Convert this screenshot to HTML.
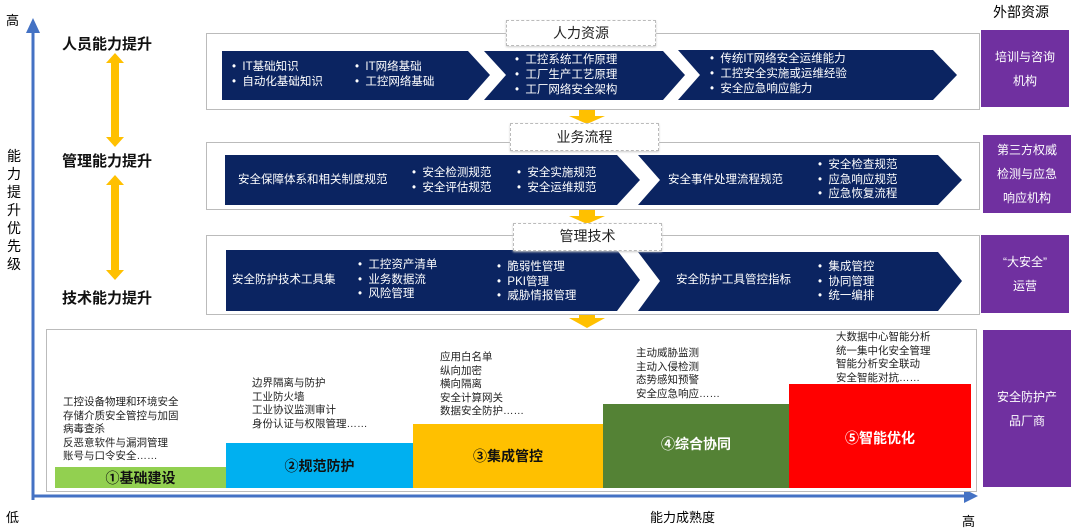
<!DOCTYPE html>
<html><head><meta charset="utf-8"><style>
body{margin:0;width:1080px;height:529px;background:#fff;position:relative;overflow:hidden;font-family:"Liberation Sans","Noto Sans CJK SC",sans-serif;}
.a{position:absolute;white-space:nowrap}
.lbl{font-size:15px;font-weight:bold;color:#111}
.panel{position:absolute;border:1.5px solid #bbb;background:#fff}
.tab{position:absolute;border:1px dashed #bbb;background:#fff;font-size:14px;color:#222;text-align:center;box-shadow:0 1px 2px #ccc}
.w{color:#fff;font-size:11.5px;line-height:14.5px}
.pur{position:absolute;background:#7030a0;color:#fff;font-size:12px;text-align:center;display:flex;align-items:center;justify-content:center;line-height:24px}
.bl{color:#222;font-size:10.5px;line-height:13.5px}
.step{position:absolute;display:flex;justify-content:center;font-size:14px;font-weight:bold}
</style></head><body>
<svg width="1080" height="529" style="position:absolute;left:0;top:0">
<line x1="33" y1="30" x2="33" y2="500" stroke="#4472c4" stroke-width="3"/>
<polygon points="33,18 26,33 40,33" fill="#4472c4"/>
<line x1="33" y1="496" x2="966" y2="496" stroke="#4472c4" stroke-width="3"/>
<polygon points="978,496 964,489 964,503" fill="#4472c4"/>
<g fill="#ffc000">
<polygon points="115,53 106,63 111,63 111,137 106,137 115,147 124,137 119,137 119,63 124,63"/>
<polygon points="115,175 106,185 111,185 111,270 106,270 115,280 124,270 119,270 119,185 124,185"/>
<polygon points="579,109 595,109 595,116 605,116 587,124 569,116 579,116"/>
<polygon points="579,209 595,209 595,216 605,216 587,224 569,216 579,216"/>
<polygon points="579,311 595,311 595,318 605,318 587,328 569,318 579,318"/>
</g>
</svg>
<div class="a" style="left:6px;top:10px;font-size:13px">高</div>
<div class="a" style="left:6px;top:507px;font-size:13px">低</div>
<div class="a" style="left:962px;top:511px;font-size:13px">高</div>
<div class="a" style="left:650px;top:507px;font-size:13px">能力成熟度</div>
<div class="a" style="left:7px;top:147px;font-size:14px;line-height:18px;width:16px;white-space:normal">能力提升优先级</div>
<div class="a lbl" style="left:62px;top:33px">人员能力提升</div>
<div class="a lbl" style="left:62px;top:150px">管理能力提升</div>
<div class="a lbl" style="left:62px;top:287px">技术能力提升</div>

<div class="panel" style="left:206px;top:33px;width:772px;height:75px"></div>
<div class="panel" style="left:206px;top:142px;width:772px;height:66px"></div>
<div class="panel" style="left:206px;top:235px;width:772px;height:78px"></div>

<svg width="1080" height="529" style="position:absolute;left:0;top:0">
<g fill="#0b2461">
<polygon points="222,51 468,51 490,75 468,100 222,100"/>
<polygon points="484,51 663,51 685,75 663,100 484,100 506,75"/>
<polygon points="678,50 933,50 957,75 933,100 678,100 700,75"/>
<polygon points="225,155 617,155 640,180 617,205 225,205"/>
<polygon points="638,155 938,155 962,180 938,205 638,205 660,180"/>
<polygon points="226,250 617,250 640,280 617,311 226,311"/>
<polygon points="638,252 938,252 962,281 938,311 638,311 660,281"/>
</g>
</svg>
<div class="tab" style="left:506px;top:20px;width:148px;height:24px;line-height:24px">人力资源</div>
<div class="tab" style="left:510px;top:123px;width:147px;height:26px;line-height:26px">业务流程</div>
<div class="tab" style="left:513px;top:223px;width:147px;height:26px;line-height:24px">管理技术</div>

<div class="a w" style="left:232px;top:60px">•&nbsp; IT基础知识<br>•&nbsp; 自动化基础知识</div>
<div class="a w" style="left:355px;top:60px">•&nbsp; IT网络基础<br>•&nbsp; 工控网络基础</div>
<div class="a w" style="left:515px;top:53px;line-height:15px">•&nbsp; 工控系统工作原理<br>•&nbsp; 工厂生产工艺原理<br>•&nbsp; 工厂网络安全架构</div>
<div class="a w" style="left:710px;top:52px;line-height:15px">•&nbsp; 传统IT网络安全运维能力<br>•&nbsp; 工控安全实施或运维经验<br>•&nbsp; 安全应急响应能力</div>

<div class="a w" style="left:238px;top:173px">安全保障体系和相关制度规范</div>
<div class="a w" style="left:412px;top:166px">•&nbsp; 安全检测规范<br>•&nbsp; 安全评估规范</div>
<div class="a w" style="left:517px;top:166px">•&nbsp; 安全实施规范<br>•&nbsp; 安全运维规范</div>
<div class="a w" style="left:668px;top:173px">安全事件处理流程规范</div>
<div class="a w" style="left:818px;top:158px">•&nbsp; 安全检查规范<br>•&nbsp; 应急响应规范<br>•&nbsp; 应急恢复流程</div>

<div class="a w" style="left:232px;top:273px">安全防护技术工具集</div>
<div class="a w" style="left:358px;top:258px">•&nbsp; 工控资产清单<br>•&nbsp; 业务数据流<br>•&nbsp; 风险管理</div>
<div class="a w" style="left:497px;top:260px">•&nbsp; 脆弱性管理<br>•&nbsp; PKI管理<br>•&nbsp; 威胁情报管理</div>
<div class="a w" style="left:676px;top:273px">安全防护工具管控指标</div>
<div class="a w" style="left:818px;top:260px">•&nbsp; 集成管控<br>•&nbsp; 协同管理<br>•&nbsp; 统一编排</div>

<div class="a" style="left:993px;top:2px;font-size:14px">外部资源</div>
<div class="pur" style="left:981px;top:30px;width:88px;height:77px">培训与咨询<br>机构</div>
<div class="pur" style="left:983px;top:135px;width:88px;height:78px">第三方权威<br>检测与应急<br>响应机构</div>
<div class="pur" style="left:981px;top:235px;width:88px;height:78px">“大安全”<br>运营</div>
<div class="pur" style="left:983px;top:330px;width:88px;height:157px">安全防护产<br>品厂商</div>

<div class="panel" style="left:46px;top:329px;width:929px;height:161px"></div>
<div class="step" style="left:55px;top:467px;width:171px;height:21px;background:#92d050;line-height:22px;color:#111">①基础建设</div>
<div class="step" style="left:226px;top:443px;width:187px;height:45px;background:#00b0f0;line-height:46px;color:#111">②规范防护</div>
<div class="step" style="left:413px;top:424px;width:190px;height:64px;background:#ffc000;line-height:64px;color:#111">③集成管控</div>
<div class="step" style="left:603px;top:404px;width:186px;height:84px;background:#548235;line-height:80px;color:#fff">④综合协同</div>
<div class="step" style="left:789px;top:384px;width:182px;height:104px;background:#ff0000;line-height:108px;color:#fff">⑤智能优化</div>

<div class="a bl" style="left:63px;top:396px">工控设备物理和环境安全<br>存储介质安全管控与加固<br>病毒查杀<br>反恶意软件与漏洞管理<br>账号与口令安全……</div>
<div class="a bl" style="left:252px;top:377px">边界隔离与防护<br>工业防火墙<br>工业协议监测审计<br>身份认证与权限管理……</div>
<div class="a bl" style="left:440px;top:351px">应用白名单<br>纵向加密<br>横向隔离<br>安全计算网关<br>数据安全防护……</div>
<div class="a bl" style="left:636px;top:347px">主动威胁监测<br>主动入侵检测<br>态势感知预警<br>安全应急响应……</div>
<div class="a bl" style="left:836px;top:331px">大数据中心智能分析<br>统一集中化安全管理<br>智能分析安全联动<br>安全智能对抗……</div>
</body></html>
